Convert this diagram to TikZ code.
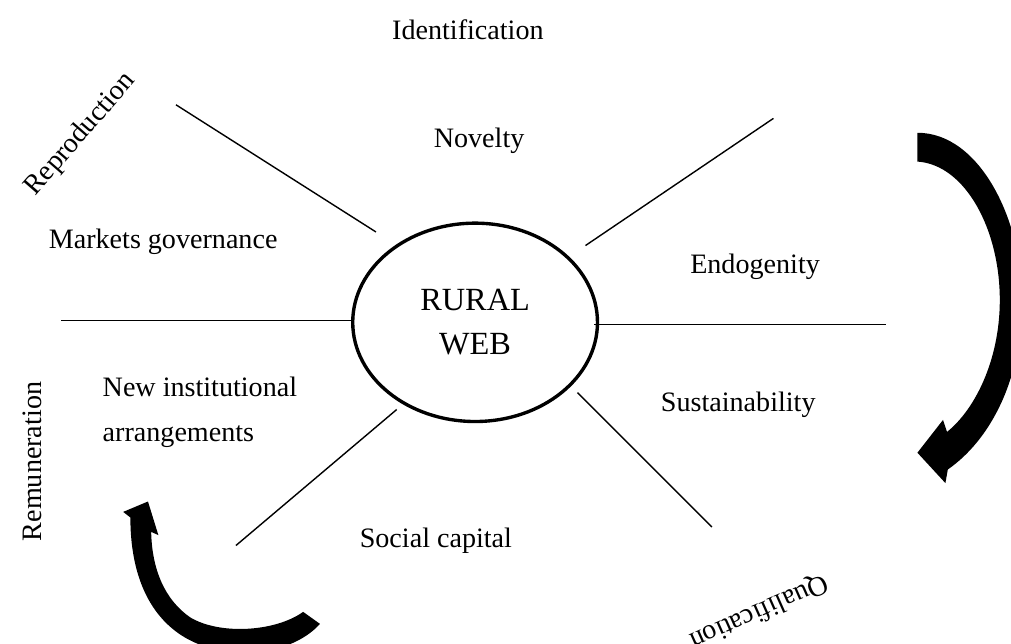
\documentclass[tikz,border=0pt]{standalone}
\usepackage{fontspec}
\setmainfont{Liberation Serif}
\usetikzlibrary{shapes.geometric}
\begin{document}
\begin{tikzpicture}[spoke/.style={line width=0.5pt}, bigarrow/.style={fill=black}]
	\useasboundingbox (-5.94,-4.04) rectangle (6.7,4.01);
	\node[draw, ellipse, line width=1.2pt, minimum width=3.06cm, minimum height=2.48cm, align=center, font=\fontsize{11.5}{15.5}\selectfont] (web) at (0,-0.02) {RURAL\\WEB};
	
	% spokes
	\coordinate (ul-in) at (-1.24,1.11);
	\coordinate (ul-out) at (-3.74,2.7);
	\coordinate (ur-in) at (1.38,0.94);
	\coordinate (ur-out) at (3.73,2.53);
	\coordinate (l-in) at (-1.53,0);
	\coordinate (l-out) at (-5.18,0);
	\coordinate (r-in) at (1.49,-0.05);
	\coordinate (r-out) at (5.14,-0.05);
	\coordinate (ll-in) at (-0.98,-1.11);
	\coordinate (ll-out) at (-2.99,-2.81);
	\coordinate (lr-in) at (1.28,-0.9);
	\coordinate (lr-out) at (2.96,-2.58);
	\draw[spoke] (ul-in) -- (ul-out);
	\draw[spoke] (ur-in) -- (ur-out);
	\draw[spoke] (l-in) -- (l-out);
	\draw[spoke] (r-in) -- (r-out);
	\draw[spoke] (ll-in) -- (ll-out);
	\draw[spoke] (lr-in) -- (lr-out);
	
	\node (ident) at (-0.09,3.64) {Identification};
	\node (novelty) at (0.05,2.25) {Novelty};
	\node (markets) at (-3.9,0.99) {Markets governance};
	\node (endog) at (3.5,0.67) {Endogenity};
	\node (sustain) at (3.29,-1.05) {Sustainability};
	\node[anchor=west, align=left, font=\fontsize{10}{16}\selectfont] (instit) at (-4.78,-1.14) {New institutional\\arrangements};
	\node (social) at (-0.49,-2.75) {Social capital};
	\node[rotate=49] (repro) at (-4.93,2.33) {Reproduction};
	\node[rotate=90] (remun) at (-5.53,-1.76) {Remuneration};
	\node[rotate=204] (qualif) at (3.55,-3.64) {Qualification};
	
	% curved arrows
	\fill[bigarrow] (5.53,2.35) .. controls (6.31,2.35) and (6.84,1.26) .. (6.84,0.26)
		.. controls (6.84,-0.74) and (6.44,-1.49) .. (5.91,-1.86)
		-- (5.88,-2.03) -- (5.53,-1.65) -- (5.85,-1.24) -- (5.9,-1.39)
		.. controls (6.25,-1.11) and (6.56,-0.49) .. (6.56,0.26)
		.. controls (6.56,1.14) and (6.13,1.95) .. (5.53,1.99) -- cycle;
	\fill[bigarrow] (-2.15,-3.64) -- (-1.94,-3.79)
		.. controls (-2.25,-4.14) and (-2.94,-4.26) .. (-3.44,-4.05)
		.. controls (-3.94,-3.86) and (-4.31,-3.36) .. (-4.31,-2.46)
		-- (-4.4,-2.39) -- (-4.09,-2.26) -- (-3.96,-2.68) -- (-4.05,-2.64)
		.. controls (-4.04,-3.11) and (-3.88,-3.49) .. (-3.56,-3.71)
		.. controls (-3.19,-3.93) and (-2.5,-3.89) .. (-2.15,-3.64) -- cycle;
\end{tikzpicture}
\end{document}
